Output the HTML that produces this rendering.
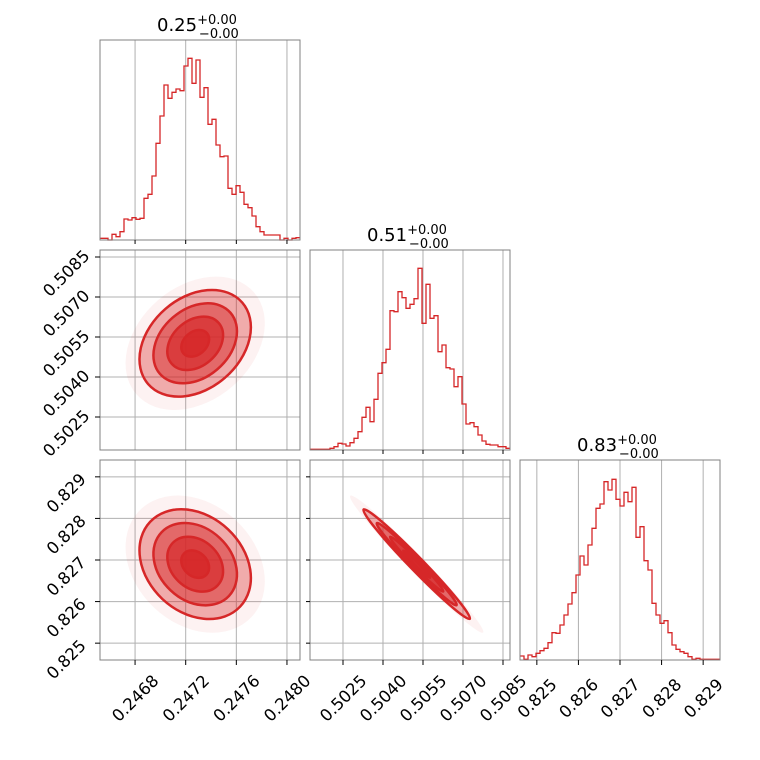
<!DOCTYPE html>
<html><head><meta charset="utf-8"><style>
body{margin:0;background:#fff}
svg{display:block;font-family:"DejaVu Sans","Liberation Sans",sans-serif}
</style></head><body>
<svg id="c" width="760" height="760" viewBox="0 0 760 760"></svg>
<script>
// ---- data ----
const paramNames = ["p0","p1","p2"];
const titleValues = ["0.25","0.51","0.83"];
const axisLo = [0.246523, 0.501263, 0.824595];
const axisHi = [0.248103, 0.508763, 0.829405];
const ticks0 = [0.2468, 0.2472, 0.2476, 0.2480];
const tickLabels0 = ["0.2468","0.2472","0.2476","0.2480"];
const ticks1 = [0.5025, 0.5040, 0.5055, 0.5070, 0.5085];
const tickLabels1 = ["0.5025","0.5040","0.5055","0.5070","0.5085"];
const ticks2 = [0.825, 0.826, 0.827, 0.828, 0.829];
const tickLabels2 = ["0.825","0.826","0.827","0.828","0.829"];
const hist0 = [5,5,0,17,10,25,63,60,67,62,65,125,137,192,290,372,465,425,443,453,448,522,545,470,540,428,457,347,362,285,250,252,155,137,163,143,107,97,72,40,25,15,15,15,15,0,5,0,5,7];
const hist1 = [2,2,2,2,2,5,10,20,18,12,22,35,55,98,128,85,152,230,262,302,418,415,475,457,425,437,454,545,380,497,395,403,295,315,247,243,190,220,138,78,82,70,45,27,17,15,15,10,10,5];
const hist2 = [12,2,15,10,20,28,35,52,82,80,105,135,168,202,255,312,285,345,395,455,468,535,510,542,482,462,503,475,518,368,400,298,270,170,135,110,118,82,45,32,25,20,10,2,5,2,2,2,2,2];
const means = [0.247275, 0.505264, 0.82690];
const sigmas = [0.00022, 0.00100, 0.00066];
const corr10 = 0.30;   // p1 vs p0
const corr20 = -0.25;  // p2 vs p0
const corr21 = -0.985; // p2 vs p1
const histMax = 600;

// ---- layout ----
const NS="http://www.w3.org/2000/svg";
const svg=document.getElementById('c');
const P0=[100,310,520], PY=[40,250,460], S=200;
const RED="#d62728", GRID="#b0b0b0", FRAME="#808080";
const ticksAll=[ticks0,ticks1,ticks2], labelsAll=[tickLabels0,tickLabels1,tickLabels2], histAll=[hist0,hist1,hist2];
function el(t,a,p){const e=document.createElementNS(NS,t);for(const k in a)e.setAttribute(k,a[k]);(p||svg).appendChild(e);return e;}
function sx(i,v){return P0[i]+(v-axisLo[i])/(axisHi[i]-axisLo[i])*S;}
function sy(j,v){return PY[j]+S-(v-axisLo[j])/(axisHi[j]-axisLo[j])*S;}

function frame(x,y,name){
  const r=el('rect',{x:x,y:y,width:S,height:S,fill:'none',stroke:FRAME,'stroke-width':1});
  
  
}
function vgrid(i,row,g){ticksAll[i].forEach(t=>{const x=sx(i,t);const l=el('line',{x1:x,x2:x,y1:PY[row],y2:PY[row]+S,stroke:GRID,'stroke-width':1},g);
  });}
function hgrid(j,col,g){ticksAll[j].forEach(t=>{const y=sy(j,t);const l=el('line',{x1:P0[col],x2:P0[col]+S,y1:y,y2:y,stroke:GRID,'stroke-width':1},g);
  });}

// diagonal histograms
for(let i=0;i<3;i++){
  const g=el('g',{});
  
  
  vgrid(i,i,g);
  const h=histAll[i], n=h.length, bw=S/n;
  let d='';
  for(let k=0;k<n;k++){
    const x0=P0[i]+k*bw, y=PY[i]+S-h[k]/histMax*S;
    d+=(k===0?'M':'L')+x0+','+y+'L'+(x0+bw)+','+y;
  }
  const p=el('path',{d:d,fill:'none',stroke:RED,'stroke-width':1.3},g);
  
  
  frame(P0[i],PY[i],'hist-'+i);
  const t=el('text',{x:P0[i]+57,y:PY[i]-9,'font-size':18,fill:'#000'});
  
  
  t.innerHTML=titleValues[i]+'<tspan font-size="13" dy="-7">+0.00</tspan><tspan font-size="13" dx="-38" dy="14">−0.00</tspan>';
}

// 2D panels
function ellipsePanel(i,j,corr,name){
  const g=el('g',{});
  
  
  vgrid(i,j,g); hgrid(j,i,g);
  const cx=sx(i,means[i]), cy=sy(j,means[j]);
  const sxp=sigmas[i]/(axisHi[i]-axisLo[i])*S, syp=sigmas[j]/(axisHi[j]-axisLo[j])*S;
  const cyv=-corr*sxp*syp;
  const a=sxp*sxp, b=syp*syp, c=cyv;
  const tr=(a+b)/2, dd=Math.sqrt(((a-b)/2)**2+c*c);
  const l1=tr+dd, l2=Math.max(tr-dd,0.5);
  const ang=Math.atan2(l1-a,c)*180/Math.PI;
  const angle=(Math.abs(c)<1e-9)?(a>=b?0:90):ang;
  const levels=[2.5,2,1.5,1,0.5];
  const fills=['rgba(214,39,40,0.06)','rgba(214,39,40,0.35)','rgba(214,39,40,0.5)','rgba(214,39,40,0.65)','rgba(214,39,40,0.8)'];
  levels.forEach((k,idx)=>{
    const e=el('ellipse',{cx:0,cy:0,rx:k*Math.sqrt(l1),ry:k*Math.sqrt(l2),
      transform:`translate(${cx},${cy}) rotate(${angle})`,fill:fills[idx],
      stroke:idx===0?'none':RED,'stroke-width':2.5},g);
    
    
  });
  frame(P0[i],PY[j],name);
}
ellipsePanel(0,1,corr10,'scatter-p0-p1');
ellipsePanel(0,2,corr20,'scatter-p0-p2');
ellipsePanel(1,2,corr21,'scatter-p1-p2');

// bottom tick labels
for(let i=0;i<3;i++){
  ticksAll[i].forEach((t,k)=>{
    const x=sx(i,t);
    const tk=el('line',{x1:x,x2:x,y1:660,y2:665,stroke:'#000','stroke-width':1});
    
    const tx=el('text',{x:x,y:704,'text-anchor':'middle','font-size':16.5,transform:`rotate(-45 ${x} 698)`});
    
    tx.textContent=labelsAll[i][k];
  });
}
// left tick labels
for(let j=1;j<3;j++){
  ticksAll[j].forEach((t,k)=>{
    const y=sy(j,t);
    const tk=el('line',{x1:95,x2:100,y1:y,y2:y,stroke:'#000','stroke-width':1});
    
    const cxl=66, cyl=y+16;
    const tx=el('text',{x:cxl,y:cyl+6,'text-anchor':'middle','font-size':16.5,transform:`rotate(-45 ${cxl} ${cyl})`});
    
    tx.textContent=labelsAll[j][k];
  });
}
// inner tick marks
[[0,0],[1,1]].forEach(([i,row])=>{
  ticksAll[i].forEach(t=>{const x=sx(i,t);const l=el('line',{x1:x,x2:x,y1:PY[row]+S,y2:PY[row]+S+4,stroke:'#000','stroke-width':1});
    });
});
ticksAll[2].forEach(t=>{const y=sy(2,t);const l=el('line',{x1:306,x2:310,y1:y,y2:y,stroke:'#000','stroke-width':1});
  });
</script>
</body></html>
